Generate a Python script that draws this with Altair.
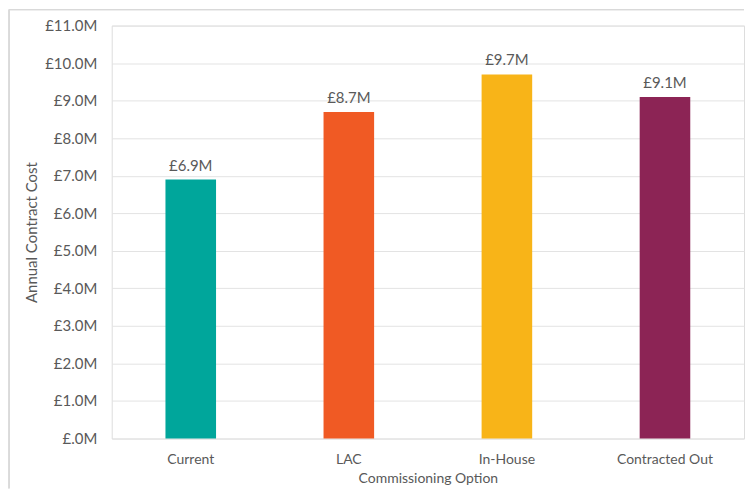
import altair as alt
import pandas as pd

categories = ["Current", "LAC", "In-House", "Contracted Out"]
costs_m = [6.9, 8.7, 9.7, 9.1]
bar_labels = ["£6.9M", "£8.7M", "£9.7M", "£9.1M"]
colors = ["#00A69B", "#F05A24", "#F8B418", "#8C2455"]
y_ticks = [0, 1, 2, 3, 4, 5, 6, 7, 8, 9, 10, 11]

df = pd.DataFrame({"option": categories, "cost": costs_m, "label": bar_labels})

FONT = "Lato"
TXT = "#595959"
W, H = 634, 414

x_enc = alt.X(
    "option:N",
    sort=categories,
    scale=alt.Scale(paddingInner=0.68, paddingOuter=0.34),
    axis=alt.Axis(
        title="Commissioning Option",
        labelAngle=0,
        labelPadding=14,
        titlePadding=5,
        domain=False,
        ticks=False,
        labelFontSize=14,
        titleFontSize=14,
        labelColor=TXT,
        titleColor=TXT,
        labelFont=FONT,
        titleFont=FONT,
        titleFontWeight="normal",
    ),
)

y_enc = alt.Y(
    "cost:Q",
    scale=alt.Scale(domain=[0, 11], nice=False, zero=True),
    axis=alt.Axis(
        title="Annual Contract Cost",
        values=y_ticks,
        labelOverlap=False,
        labelExpr="'£' + (datum.value == 0 ? '' : datum.value) + '.0M'",
        domain=False,
        ticks=False,
        labelPadding=15,
        titlePadding=5,
        gridColor="#E3E3E3",
        gridWidth=1,
        labelFontSize=15,
        titleFontSize=15,
        labelColor=TXT,
        titleColor=TXT,
        labelFont=FONT,
        titleFont=FONT,
        titleFontWeight="normal",
    ),
)

base = alt.Chart(df).encode(x=x_enc, y=y_enc)

bars = base.mark_bar().encode(
    color=alt.Color("option:N", scale=alt.Scale(domain=categories, range=colors), legend=None),
)

labels = base.mark_text(
    baseline="bottom", dy=-6, fontSize=15, font=FONT, color=TXT
).encode(text="label:N")

border_left = alt.Chart(df).mark_rule(color="#D9D9D9", strokeWidth=1).encode(
    x=alt.value(-103), y=alt.value(-16), y2=alt.value(H + 50)
)
border_top = alt.Chart(df).mark_rule(color="#D9D9D9", strokeWidth=1).encode(
    x=alt.value(-103), x2=alt.value(W), y=alt.value(-16)
)

chart = (
    alt.layer(bars, labels, border_left, border_top)
    .properties(width=W, height=H, padding={"left": 0, "top": 0, "right": 0, "bottom": 0})
    .configure_view(stroke=None)
    .configure(background="white")
)

chart.save("out.html", embed_options={"renderer": "svg", "actions": False})
